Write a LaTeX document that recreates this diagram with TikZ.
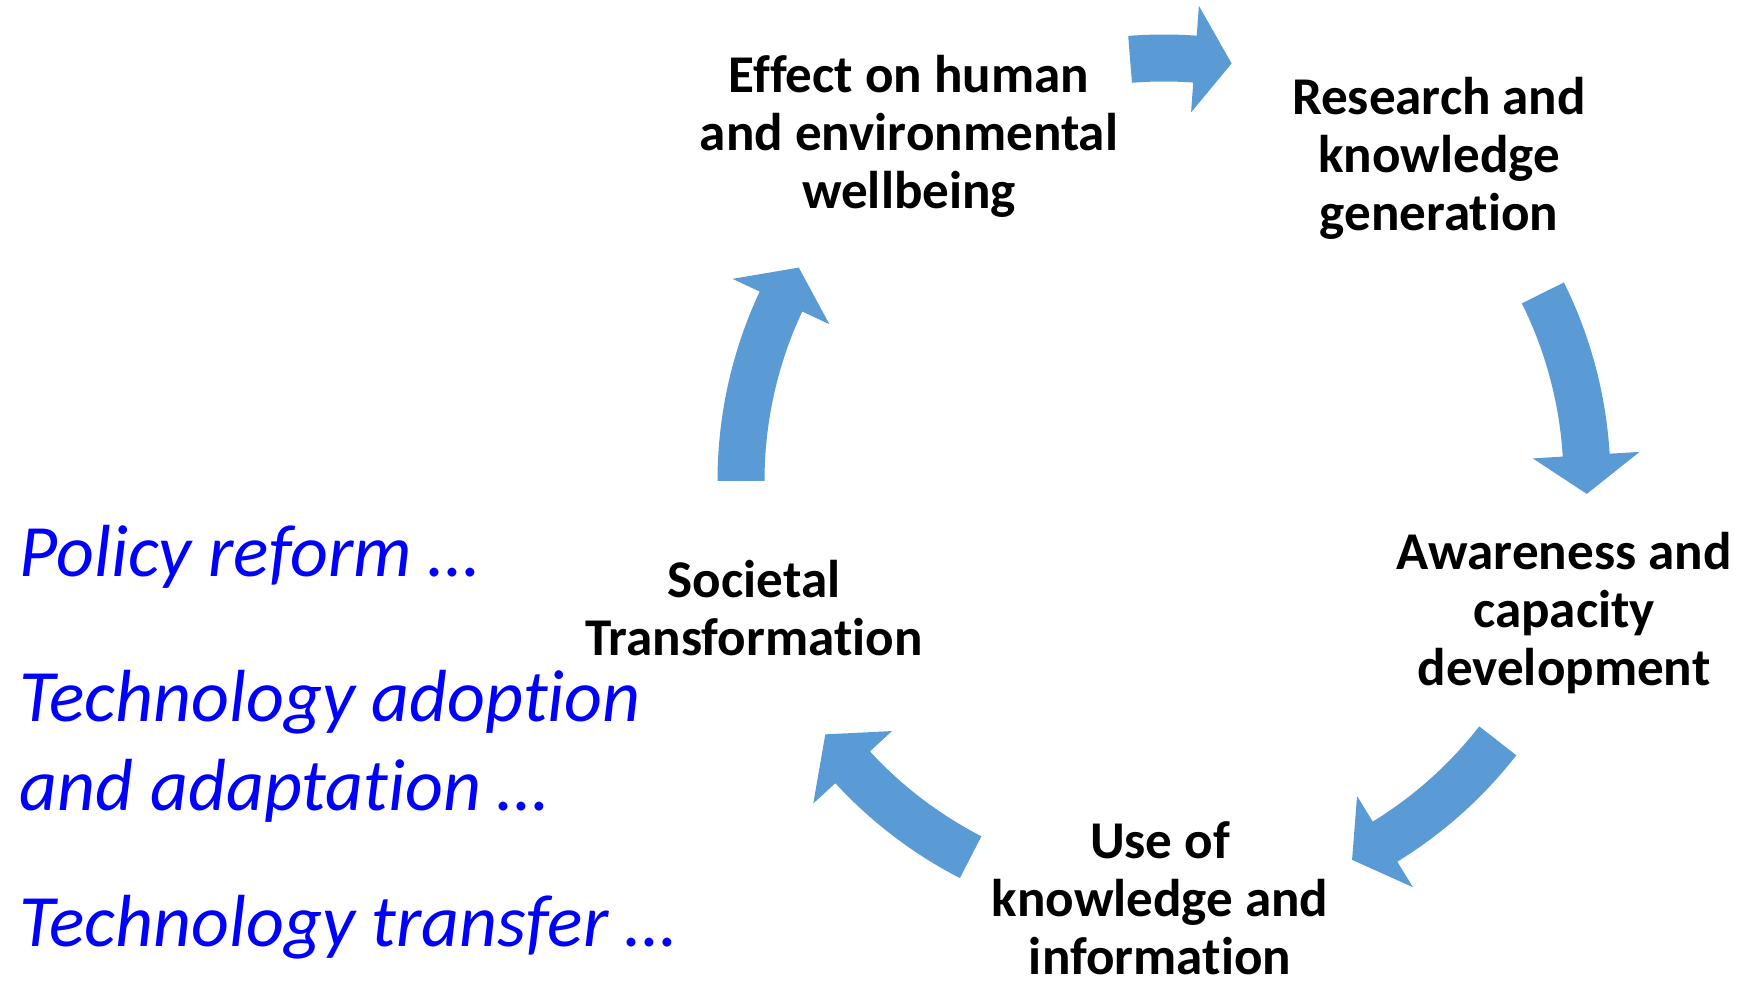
\documentclass[tikz,border=0pt]{standalone}
\usepackage{fontspec}
\setmainfont{Carlito}[Ligatures=NoCommon]
\definecolor{arrowblue}{RGB}{91,155,213}
\definecolor{noteblue}{RGB}{0,0,255}
\tikzset{
  stage/.style={align=center, inner sep=0pt, font=\bfseries\fontsize{15.1}{16.5}\selectfont},
  note/.style={anchor=west, align=left, inner sep=0pt, text=noteblue, font=\itshape\fontsize{21}{25.3}\selectfont},
  cyclearrow/.style={fill=arrowblue, draw=none}
}
% curved block arrow on the cycle: tail angle, head base angle, tip angle
\newcommand{\cyclearrow}[3]{%
  \fill[cyclearrow, shift={(c)}] (#1:399.5) arc[start angle=#1, end angle=#2, radius=399.5]
    -- (#2:369.5) -- (#3:423) -- (#2:476.5) -- (#2:446.5)
    arc[start angle=#2, end angle=#1, radius=446.5] -- cycle;}
\begin{document}
\begin{tikzpicture}[x=0.01cm, y=0.01cm]
    \useasboundingbox (0,0) rectangle (1742,983);
    \coordinate (c) at (1164,502);

    \path (909,847) node[stage] (effect) {Effect on human\\and environmental\\wellbeing};
    \path (1439,825) node[stage] (research) {Research and\\knowledge\\generation};
    \path (1564,370) node[stage] (awareness) {Awareness and\\capacity\\development};
    \path (1160,85) node[stage] (use) {Use of\\knowledge and\\information};
    \path (754,375) node[stage] (societal) {Societal\\Transformation};

    \cyclearrow{94.6}{85.8}{80.8}
    \cyclearrow{26.4}{3.5}{-1.75}
    \cyclearrow{-37.9}{-58.5}{-63.6}
    \cyclearrow{-117.2}{-137.4}{-143.2}
    \cyclearrow{180}{154.9}{149.7}

    \path (19,426.5) node[note] (policy) {Policy reform \dots};
    \path (19,237) node[note] (adoption) {Technology adoption\\and adaptation \dots};
    \path (19,55.5) node[note] (transfer) {Technology transfer \dots};
  \end{tikzpicture}
\end{document}
